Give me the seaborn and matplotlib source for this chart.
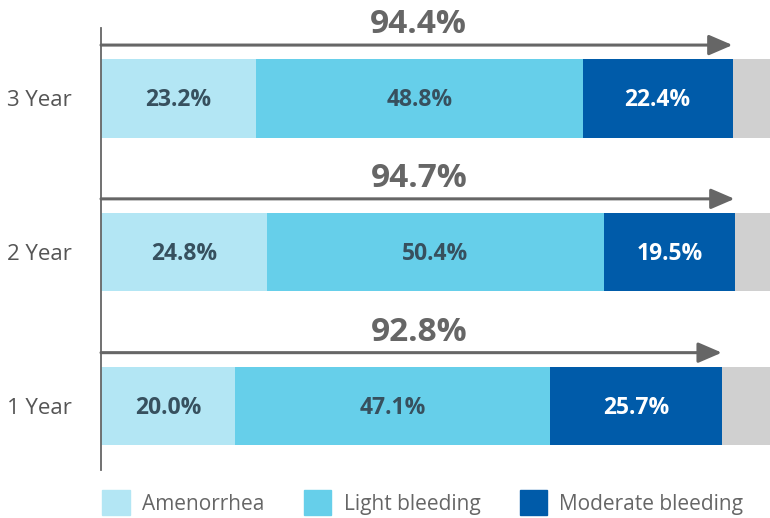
import seaborn as sns
import matplotlib.pyplot as plt
import matplotlib.patches as mpatches
import pandas as pd

years = ["3 Year", "2 Year", "1 Year"]
amenorrhea = [23.2, 24.8, 20.0]
light = [48.8, 50.4, 47.1]
moderate = [22.4, 19.5, 25.7]
totals = [94.4, 94.7, 92.8]
categories = ["Amenorrhea", "Light bleeding", "Moderate bleeding"]

colors = ["#b3e6f4", "#66cfea", "#005ba9"]
grey = "#d0d0d0"
txt_dark = "#37505e"
txt_grey = "#666666"

sns.set_style("white")
plt.rcParams["font.family"] = ["Open Sans", "DejaVu Sans"]

df = pd.DataFrame({"year": years, "a": amenorrhea, "l": light, "m": moderate})
df["c1"] = df["a"]
df["c2"] = df["a"] + df["l"]
df["c3"] = df["c2"] + df["m"]
df["full"] = 100.0

fig = plt.figure(figsize=(7.7, 5.18), dpi=100)
ax = fig.add_axes([101 / 770, 48 / 518, 669 / 770, 442 / 518])

# cumulative bars drawn back to front
for col, c in [("full", grey), ("c3", colors[2]), ("c2", colors[1]), ("c1", colors[0])]:
    sns.barplot(data=df, x=col, y="year", order=years, color=c, width=0.51,
                saturation=1, ax=ax, orient="h", linewidth=0)

for i in range(len(years)):
    segs = [(0, amenorrhea[i]), (amenorrhea[i], light[i]),
            (amenorrhea[i] + light[i], moderate[i])]
    for j, (start, w) in enumerate(segs):
        ax.text(start + w / 2, i + 0.01, f"{w:.1f}%", ha="center", va="center",
                fontsize=16.5, fontweight="bold",
                color="white" if j == 2 else txt_dark)
    ax.annotate("", xy=(totals[i], i - 0.347), xytext=(0, i - 0.347),
                arrowprops=dict(arrowstyle="-|>,head_length=0.72,head_width=0.31",
                                lw=2.2, color=txt_grey,
                                mutation_scale=20, shrinkA=0, shrinkB=0),
                annotation_clip=False)
    ax.text(47.5, i - 0.48, f"{totals[i]:.1f}%", ha="center", va="center",
            fontsize=24, fontweight="bold", color=txt_grey, clip_on=False)

ax.set_xlim(0, 100)
ax.set_ylim(2.416, -0.458)
ax.set_xlabel("")
ax.set_ylabel("")
ax.set_xticks([])
ax.tick_params(axis="y", length=0, pad=21, labelsize=16, labelcolor="#555555")
for s in ["top", "right", "bottom"]:
    ax.spines[s].set_visible(False)
ax.spines["left"].set_color(txt_grey)
ax.spines["left"].set_linewidth(1.3)

handles = [mpatches.Patch(color=c, label=l) for c, l in zip(colors, categories)]
fig.legend(handles=handles, loc="lower left", bbox_to_anchor=(92 / 770, -0.015),
           ncol=3, frameon=False, fontsize=15, labelcolor=txt_grey,
           handlelength=1.3, handleheight=1.5, handletextpad=0.6,
           columnspacing=1.9, borderpad=0)

fig.savefig("out.png", dpi=100)
